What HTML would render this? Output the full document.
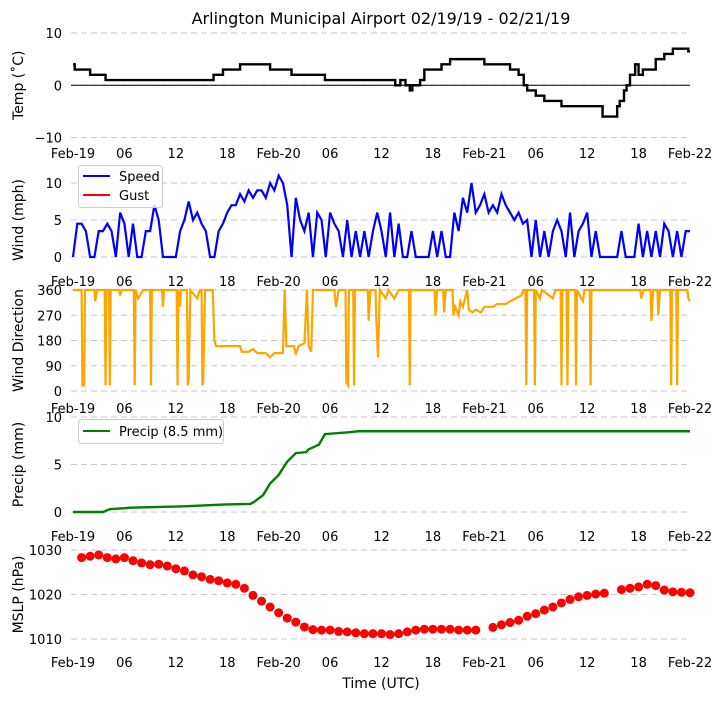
<!DOCTYPE html>
<html><head><meta charset="utf-8"><style>
body{margin:0;background:#fff;}
svg text{font-family:"DejaVu Sans","Liberation Sans",sans-serif;fill:#000;}
</style></head><body>
<svg id="c" width="721" height="700" xmlns="http://www.w3.org/2000/svg"></svg>
<script>
const xTickHours=[0,6,12,18,24,30,36,42,48,54,60,66,72];
const xTickLabels=["Feb-19","06","12","18","Feb-20","06","12","18","Feb-21","06","12","18","Feb-22"];
const tempHours=[0,0.2,2,3.8,16.4,17.5,19.5,23,25.5,29.4,37.6,38.2,38.8,39.3,39.6,40.5,41,43,44,48,51,52,52.6,53,54,55,57,61.8,63.5,63.8,64.3,64.6,65,65.6,66,66.5,68,69,70,71.8,72];
const tempVals=[4,3,2,1,2,3,4,3,2,1,0,1,0,-1,0,1,3,4,5,4,3,2,0,-1,-2,-3,-4,-6,-4,-3,-1,0,2,4,2,3,5,6,7,6.5,6.5];
const windVals=[0,4.5,4.5,3.5,0,0,3.5,3.5,4.5,3.5,0,6,4.5,0,4.5,0,0,3.5,3.5,7,5,0,0,0,0,3.5,5,7.5,5,6,4.5,3.5,0,0,3.5,4.5,6,7,7,8.5,7.5,9,8,9,9,8,10,9,11,10,7,0,8,5,3.5,6,0,6,5,0,6,4.5,3.5,0,5,0,3.5,0,3.5,0,3.5,6,3.5,0,6,0,4.5,0,0,3.5,0,0,0,0,3.5,0,3.5,0,0,6,3.5,8,6,10,6,7,8.5,6,7,6,8.5,7,6,5,6,4.5,5,0,5,0,3.5,0,3.5,5,3.5,0,6,0,3.5,4.5,6,0,3.5,0,0,0,0,0,3.5,0,0,0,4.5,0,3.5,0,3.5,0,4.5,3.5,0,3.5,0,3.5,3.5];
const dirHours=[0,1.0,1.1,1.3,1.4,2.5,2.6,2.8,3.7,3.8,3.9,4.2,4.3,4.4,5.4,5.5,5.7,7.1,7.2,7.3,7.6,7.8,8.2,9.0,9.1,9.2,10.4,10.5,10.6,12.1,12.2,12.3,12.5,12.6,13.3,13.4,13.5,13.7,14.5,14.8,15.0,15.1,15.2,15.4,16.3,16.5,16.7,18.0,19.5,19.7,20.5,21,21.5,22.5,23,23.5,24.5,24.7,24.9,25.8,26,26.3,27.0,27.3,27.5,27.8,28.0,30.5,30.7,31,31.8,31.9,32.1,32.2,32.7,32.8,32.9,34.4,34.5,34.7,35.3,35.4,35.6,35.8,36.5,36.8,37.5,38,39.2,39.3,39.4,42.2,42.3,42.5,43.2,43.3,43.5,44.3,44.4,44.6,45,45.2,45.5,46,46.2,46.6,47,47.6,48,49,49.5,50.5,51,52.3,52.6,52.8,52.9,53,53.8,53.9,54,54.5,54.7,56.0,56.3,56.9,57,57.1,57.6,57.7,57.8,58.6,58.7,58.8,59.5,59.7,60.3,60.4,60.5,66.2,66.3,66.6,67.4,67.5,67.7,68.2,68.3,68.5,69.7,69.8,69.9,70.4,70.5,70.6,71.7,71.8,72];
const dirVals=[360,360,20,20,360,360,320,360,360,20,360,360,20,360,360,340,360,360,20,360,330,340,360,360,20,360,360,300,360,360,20,360,300,360,360,20,40,360,330,360,360,20,40,360,360,180,160,160,160,140,140,150,135,135,120,135,135,360,160,160,130,160,170,360,160,140,360,360,300,360,360,30,20,360,360,20,360,360,250,360,360,250,120,360,330,360,330,360,360,20,360,360,270,360,360,280,360,360,270,300,270,320,300,360,290,280,290,280,300,300,310,310,320,340,360,360,20,360,360,20,360,330,360,330,360,360,20,360,360,20,360,360,20,360,320,360,360,20,360,360,330,360,360,250,360,360,270,360,360,20,360,360,20,360,360,330,320];
const precipHours=[0,3.5,4.3,6.7,13,17.8,20.7,21.2,22.2,23,24,25,26,27.2,27.5,28.7,29.4,32.3,33.3,72];
const precipVals=[0,0,0.3,0.45,0.6,0.8,0.85,1.1,1.8,3,3.9,5.3,6.2,6.3,6.6,7.1,8.2,8.4,8.5,8.5];
const mslpHours=[1,2,3,4,5,6,7,8,9,10,11,12,13,14,15,16,17,18,19,20,21,22,23,24,25,26,27,28,29,30,31,32,33,34,35,36,37,38,39,40,41,42,43,44,45,46,47,49,50,51,52,53,54,55,56,57,58,59,60,61,62,64,65,66,67,68,69,70,71,72];
const mslpVals=[1028.3,1028.6,1028.9,1028.3,1028.0,1028.3,1027.6,1027.1,1026.7,1026.8,1026.4,1025.8,1025.3,1024.4,1024.0,1023.4,1023.1,1022.6,1022.3,1021.4,1019.8,1018.5,1017.2,1015.9,1014.7,1013.8,1012.7,1012.1,1012.0,1012.0,1011.7,1011.6,1011.4,1011.2,1011.2,1011.2,1011.0,1011.2,1011.6,1012.0,1012.2,1012.2,1012.2,1012.2,1012.0,1012.0,1012.0,1012.6,1013.2,1013.7,1014.2,1015.1,1015.7,1016.5,1017.2,1018.1,1018.9,1019.5,1019.8,1020.1,1020.3,1021.1,1021.4,1021.7,1022.3,1022.0,1021.0,1020.6,1020.5,1020.4];

const svg=document.getElementById('c');
const NS='http://www.w3.org/2000/svg';
function el(t,a,p){const e=document.createElementNS(NS,t);for(const k in a)e.setAttribute(k,a[k]);(p||svg).appendChild(e);return e;}
const X0=73,X1=690;
const xs=h=>X0+(X1-X0)*h/72;
function txt(s,x,y,o,p){const t=el('text',Object.assign({x:x,y:y,'font-size':13},o||{}),p);t.textContent=s;return t;}

function panel(name,ymin,ymax,ytop,ybot,ticks,tickLab,ylabel,labY){
  const g=el('g',{});
  
  
  const ys=v=>ybot-(v-ymin)/(ymax-ymin)*(ybot-ytop);
  ticks.forEach((v,i)=>{
    const gl=el('line',{x1:71,x2:X1,y1:ys(v),y2:ys(v),stroke:'#c8c8c8','stroke-dasharray':'6,4','stroke-width':1},g);
    
    
    const t=txt(tickLab[i],62,ys(v)+5,{'text-anchor':'end'},g);
    
    
  });
  xTickHours.forEach((h,i)=>{
    const t=txt(xTickLabels[i],xs(h),labY,{'text-anchor':'middle'},g);
    
    
  });
  const cy=(ytop+ybot)/2;
  const yl=txt(ylabel,0,0,{'text-anchor':'middle','font-size':14,transform:`translate(23,${cy}) rotate(-90)`},g);
  
  
  return {g,ys};
}
function linePath(hours,vals,ys,step){
  let d='';
  for(let i=0;i<hours.length;i++){
    const x=xs(hours[i]).toFixed(2),y=ys(vals[i]).toFixed(2);
    if(i===0){d+=`M${x},${y}`;continue;}
    if(step){const py=ys(vals[i-1]).toFixed(2);d+=`L${x},${py}L${x},${y}`;}
    else d+=`L${x},${y}`;
  }
  return d;
}

const title=txt('Arlington Municipal Airport 02/19/19 - 02/21/19',381,24,{'text-anchor':'middle','font-size':16});



// Temp
let P=panel('temp',-10,10,33,137.5,[10,0,-10],['10','0','\u221210'],'Temp (\u02daC)',158);
el('line',{x1:71,x2:X1,y1:P.ys(0),y2:P.ys(0),stroke:'#000','stroke-width':1},P.g);
const tp=el('path',{d:linePath(tempHours,tempVals,P.ys,true),fill:'none',stroke:'#000','stroke-width':2.4},P.g);



// Wind
P=panel('wind',0,10,183,257,[0,5,10],['0','5','10'],'Wind (mph)',286);
const windHours=windVals.map((v,i)=>i*0.5);
const wp=el('path',{d:linePath(windHours,windVals,P.ys,false),fill:'none',stroke:'#0000ff','stroke-width':2.2},P.g);


let lg=el('g',{},P.g);


el('rect',{x:78.5,y:165.5,width:84,height:42,rx:3,fill:'#fff','fill-opacity':0.8,stroke:'#ccc'},lg);
el('line',{x1:83,x2:110,y1:176,y2:176,stroke:'#0000ff','stroke-width':2},lg);
txt('Speed',119,181,{},lg);
el('line',{x1:83,x2:110,y1:195,y2:195,stroke:'#ff0000','stroke-width':2},lg);
txt('Gust',119,200,{},lg);

// Direction
P=panel('direction',0,360,290,391,[0,90,180,270,360],['0','90','180','270','360'],'Wind Direction',413);
const dp=el('path',{d:linePath(dirHours,dirVals,P.ys,false),fill:'none',stroke:'#ffa500','stroke-width':2.2},P.g);



// Precip
P=panel('precip',0,10,417,512,[0,5,10],['0','5','10'],'Precip (mm)',541);
const pp=el('path',{d:linePath(precipHours,precipVals,P.ys,false),fill:'none',stroke:'#008000','stroke-width':2.4},P.g);


lg=el('g',{},P.g);


el('rect',{x:78.5,y:419.5,width:145,height:24,rx:3,fill:'#fff','fill-opacity':0.8,stroke:'#ccc'},lg);
el('line',{x1:83,x2:110,y1:431,y2:431,stroke:'#008000','stroke-width':2},lg);
txt('Precip (8.5 mm)',119,436,{},lg);

// MSLP
P=panel('mslp',1010,1030,550,639,[1010,1020,1030],['1010','1020','1030'],'MSLP (hPa)',667);
mslpHours.forEach((h,i)=>{
  const c=el('circle',{cx:xs(h),cy:P.ys(mslpVals[i]),r:4.5,fill:'#ff0000'},P.g);
  
  
});
const xt=txt('Time (UTC)',381,688,{'text-anchor':'middle','font-size':14});


</script>
</body></html>
